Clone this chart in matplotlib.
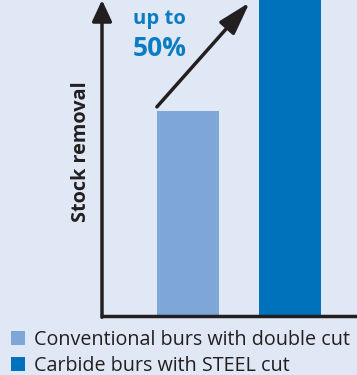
import matplotlib
matplotlib.use("Agg")
import matplotlib.pyplot as plt
from matplotlib.patches import FancyArrowPatch

categories = ["Conventional burs with double cut", "Carbide burs with STEEL cut"]
values = [100, 160]
bar_colors = ["#7ea7d8", "#0071bb"]
ylabel = "Stock removal"
annot_lines = ["up to", "50%"]

BG = "#e1e8f5"
DARK = "#231f20"
BLUE_TXT = "#0a7cc2"

W, H = 357, 375
fig = plt.figure(figsize=(W / 100, H / 100), dpi=100, facecolor=BG)

ax_left, ax_bottom = 102, 375 - 316
ax = fig.add_axes([ax_left / W, ax_bottom / H, (W - ax_left) / W, 316 / H])
ax.set_facecolor(BG)

pos = [0, 1]
ax.bar(pos, values, width=0.61, color=bar_colors, label=categories, zorder=2)
ax.set_xlim(-0.843, -0.843 + 255 / 102)
ax.set_ylim(0, 316 / 205 * 100)

for s in ["left", "top", "right"]:
    ax.spines[s].set_visible(False)
ax.spines["bottom"].set_linewidth(2.5)
ax.spines["bottom"].set_color(DARK)
ax.spines["bottom"].set_capstyle("projecting")
ax.set_xticks([])
ax.set_yticks([])

# y axis arrow
ya = FancyArrowPatch((0, -0.004), (0, 1.0), transform=ax.transAxes,
                     arrowstyle="-|>,head_length=0.43,head_width=0.2",
                     mutation_scale=30, lw=2.5, color=DARK,
                     shrinkA=0, shrinkB=0, clip_on=False, zorder=3)
ax.add_patch(ya)

# diagonal increase arrow
da = FancyArrowPatch((-0.305, 102), (0.605, 153),
                     arrowstyle="-|>,head_length=0.67,head_width=0.2",
                     mutation_scale=30, lw=2.5, color=DARK,
                     shrinkA=0, shrinkB=0, clip_on=False, zorder=3)
ax.add_patch(da)

ax.text(-0.28, 145, annot_lines[0], color=BLUE_TXT, fontsize=14.6,
        fontweight="bold", family="Open Sans", ha="center", va="center")
ax.text(-0.28, 130.5, annot_lines[1], color=BLUE_TXT, fontsize=19,
        fontweight="bold", family="Open Sans", ha="center", va="center")

fig.text(81 / W, 1 - 152 / H, ylabel, rotation=90, color=DARK, fontsize=14.3,
         fontweight="bold", family="Open Sans", ha="center", va="center")

handles, labels = ax.get_legend_handles_labels()
leg = fig.legend(handles, labels, loc="upper left",
                 bbox_to_anchor=(11 / W, 1 - 330 / H),
                 frameon=False, prop={"family": "Open Sans", "size": 14.2},
                 handlelength=0.72, handleheight=0.72, handletextpad=0.45,
                 labelspacing=0.3, borderpad=0, borderaxespad=0)
for t in leg.get_texts():
    t.set_color(DARK)

fig.savefig("out.png", dpi=100, facecolor=BG)
